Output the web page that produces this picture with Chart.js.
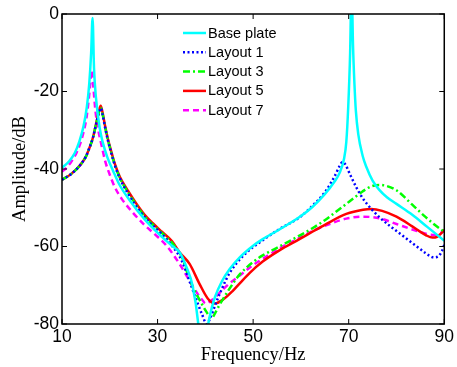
<!DOCTYPE html>
<html>
<head>
<meta charset="utf-8">
<script src="https://cdn.jsdelivr.net/npm/chart.js@4.4.1/dist/chart.umd.min.js"></script>
<style>
  html, body { margin: 0; padding: 0; background: #fff; }
  #wrap { width: 457px; height: 367px; }
</style>
</head>
<body>
<div id="wrap"><canvas id="myChart" width="457" height="367"></canvas></div>
<script>
// frequency response data (Hz / dB)
const baseFreq = [10, 11.5, 12.7, 13.6, 14.5, 15.2, 15.7, 16.1, 16.4, 16.7, 17.1, 17.9, 18.5, 19.5, 20.7, 22, 24, 27.3, 30.3, 33, 34.6, 36.1, 37.3, 38.5, 39.2, 40, 40.5, 41, 42, 43.5, 45.1, 47.2, 50, 52, 55.5, 59.7, 62.4, 65, 67, 68.1, 69.0, 69.5, 69.9, 70.3, 70.6, 70.9, 71.2, 71.5, 72, 72.9, 73.7, 75, 76.4, 78, 80, 83.3, 86.5, 90];
const baseDb = [-39.7, -38, -35.8, -33, -29, -24, -18, -10, -1, -14, -21.5, -29.5, -33, -37, -40.5, -44, -47.8, -53, -56.8, -59.8, -61.5, -65.5, -70, -79.8, -92, -92, -81.2, -77.6, -73.1, -68.9, -65.8, -62.8, -59.8, -58.1, -55.6, -52.4, -49.8, -46.5, -43.3, -41, -37.5, -33, -24, -10, 8, -8, -18, -25, -31, -36.5, -39.5, -43, -45.4, -47.3, -49, -51.8, -55, -58.5];

const lay1Freq = [10, 12, 13.8, 15, 15.6, 16.5, 17.2, 17.7, 18.1, 18.5, 19, 19.6, 20.2, 21.1, 22.1, 23.9, 25.5, 27.3, 30.9, 33, 35, 36.7, 38.2, 39.3, 40.3, 41, 42.4, 43.5, 45, 48, 52, 55.5, 59.7, 62.4, 65, 67, 68.2, 68.7, 69.3, 70.2, 71.5, 72.9, 76.4, 80, 83.3, 86, 87.8, 88.8, 89.5, 90];
const lay1Db = [-42.8, -41.2, -39, -36.8, -35, -31.8, -28, -25.5, -24.3, -26, -29.2, -32.6, -35.4, -39.2, -42.4, -46.5, -49.5, -52.5, -56.8, -59.8, -63.5, -69, -74, -77.5, -80, -78.5, -74, -70.8, -67, -62.3, -58.4, -55.5, -52.5, -49.5, -46, -42, -39, -38.2, -38.8, -41.2, -44.5, -47.5, -52.4, -56, -59.1, -61.6, -62.8, -62.5, -61.2, -59.6];

const lay3Freq = [10, 12, 13.8, 15, 15.6, 16.5, 17.2, 17.7, 18.1, 18.5, 19, 19.6, 20.2, 21.1, 22.1, 23.9, 25.5, 27.3, 30.9, 33, 35.3, 36, 37.4, 38.8, 40.3, 41.3, 42, 43, 45.1, 47.2, 50, 52, 55.5, 59.7, 62.4, 65, 69.5, 72.9, 74.5, 76.4, 78, 80, 83.3, 86, 88, 90];
const lay3Db = [-42.8, -41.2, -39, -36.8, -35, -31.8, -28, -25.4, -24.2, -25.9, -29.1, -32.5, -35.3, -39.1, -42.3, -46.2, -49.2, -52.2, -56.5, -59, -63.3, -66, -70.5, -73.8, -77, -78.5, -77.3, -75, -70.8, -67.2, -64, -62.3, -60, -57.2, -55.3, -53.2, -49, -45.8, -44.6, -44.1, -44.4, -45.5, -49.2, -52.3, -54.4, -56.2];

const lay5Freq = [10, 12, 13.8, 15, 15.6, 16.5, 17.2, 17.7, 18.1, 18.5, 19, 19.6, 20.2, 21.1, 22.1, 23.9, 25.5, 27.3, 29, 30.9, 33, 34.6, 36.7, 38.8, 40.5, 42, 43.6, 45.7, 47.2, 49.3, 52, 55.5, 59.7, 62.4, 65, 69.5, 73, 74.7, 77, 80, 83.3, 86.2, 87.5, 88.5, 89.3, 90];
const lay5Db = [-42.8, -41.2, -39, -36.8, -35, -31.8, -28, -25.2, -23.7, -25.5, -28.8, -32.2, -35, -38.8, -42, -45.8, -48.8, -51.8, -54, -56.2, -58.6, -61.5, -64.5, -69.7, -73.4, -74.7, -73.8, -71.5, -69.5, -66.8, -63.9, -61, -58.1, -56.2, -54.4, -51.6, -50.5, -50.3, -50.8, -52.3, -54.8, -57.1, -57.7, -57.5, -56.7, -55.7];

const lay7Freq = [10, 11, 12, 13, 13.8, 14.5, 15.1, 15.6, 15.95, 16.2, 16.5, 17, 17.6, 18.3, 19, 20, 21.1, 22.5, 25, 27.3, 29.4, 32, 34.6, 37.4, 38.7, 39.5, 40, 41.6, 43.6, 45, 47.2, 50, 52, 55.5, 59.7, 62.4, 66, 69.5, 72.9, 76.4, 80, 83.3, 86.9, 88.2, 90];
const lay7Db = [-40.7, -39.6, -38, -35.9, -33.5, -30.5, -27, -22, -17.5, -14.5, -18, -25, -30, -34, -37.8, -41.5, -44.8, -47.7, -51.5, -54.5, -56.8, -60, -64.5, -70.3, -72.8, -74, -74.7, -73.6, -71.2, -69.6, -67.5, -64.8, -63.2, -60.5, -57.8, -56, -54.2, -52.8, -52.3, -52.7, -54.2, -55.6, -56.9, -57, -56];

const seriesNames = ['Base plate', 'Layout 1', 'Layout 3', 'Layout 5', 'Layout 7'];
const xTicks = [10, 30, 50, 70, 90];
const yTicks = [-80, -60, -40, -20, 0];

const toPoints = (fs, ds) => fs.map((f, i) => ({ x: f, y: ds[i] }));

const lineSet = (label, pts, color, dash) => ({
    label: label,
    data: pts,
    borderColor: color,
    backgroundColor: color,
    borderWidth: 2.5,
    borderDash: dash,
    pointRadius: 0,
    fill: false,
    cubicInterpolationMode: 'monotone'
});

// box around the plot with inward tick marks on all four sides
const frameTicks = {
    id: 'frameTicks',
    afterDatasetsDraw(chart) {
        const { ctx, chartArea: a, scales: { x, y } } = chart;
        ctx.save();
        ctx.strokeStyle = '#000';
        ctx.lineWidth = 1.5;
        ctx.setLineDash([]);
        ctx.strokeRect(a.left, a.top, a.right - a.left, a.bottom - a.top);
        ctx.beginPath();
        x.ticks.forEach(t => {
            const px = x.getPixelForValue(t.value);
            ctx.moveTo(px, a.bottom); ctx.lineTo(px, a.bottom - 5);
            ctx.moveTo(px, a.top); ctx.lineTo(px, a.top + 5);
        });
        y.ticks.forEach(t => {
            const py = y.getPixelForValue(t.value);
            ctx.moveTo(a.left, py); ctx.lineTo(a.left + 5, py);
            ctx.moveTo(a.right, py); ctx.lineTo(a.right - 5, py);
        });
        ctx.lineWidth = 1;
        ctx.stroke();
        ctx.restore();
    }
};

// legend drawn inside the plot, one line sample per dataset
const innerLegend = {
    id: 'innerLegend',
    afterDatasetsDraw(chart) {
        const { ctx, chartArea: a } = chart;
        const x0 = a.left + 121;
        const y0 = a.top + 19;
        const row = 19.3;
        ctx.save();
        ctx.font = '14.5px "Liberation Sans", Arial, sans-serif';
        ctx.textBaseline = 'middle';
        ctx.fillStyle = '#000';
        chart.data.datasets.forEach((ds, i) => {
            const yy = y0 + i * row;
            ctx.strokeStyle = ds.borderColor;
            ctx.lineWidth = 2.5;
            ctx.setLineDash(ds.borderDash || []);
            ctx.beginPath();
            ctx.moveTo(x0, yy);
            ctx.lineTo(x0 + 23, yy);
            ctx.stroke();
            ctx.fillText(ds.label, x0 + 25, yy + 0.5);
        });
        ctx.restore();
    }
};

const ctx = document.getElementById('myChart').getContext('2d');

const myChart = new Chart(ctx, {
    type: 'line',
    data: {
        datasets: [
            lineSet(seriesNames[0], toPoints(baseFreq, baseDb), '#00ffff', []),
            lineSet(seriesNames[1], toPoints(lay1Freq, lay1Db), '#0000ff', [2, 2.5]),
            lineSet(seriesNames[2], toPoints(lay3Freq, lay3Db), '#00ff00', [7, 3, 2, 3]),
            lineSet(seriesNames[3], toPoints(lay5Freq, lay5Db), '#ff0000', []),
            lineSet(seriesNames[4], toPoints(lay7Freq, lay7Db), '#ff00ff', [6, 4])
        ]
    },
    options: {
        responsive: false,
        animation: false,
        events: [],
        layout: { padding: { top: 14, right: 12, left: 0, bottom: 0 } },
        plugins: {
            legend: { display: false },
            tooltip: { enabled: false }
        },
        scales: {
            x: {
                type: 'linear',
                min: 10,
                max: 90,
                afterBuildTicks: scale => { scale.ticks = xTicks.map(v => ({ value: v })); },
                afterFit: scale => { scale.height = 43; },
                grid: { display: false, drawTicks: false },
                border: { display: false },
                ticks: {
                    padding: 3,
                    color: '#000',
                    maxRotation: 0,
                    font: { family: '"Liberation Sans", Arial, sans-serif', size: 17.5 }
                },
                title: {
                    display: true,
                    text: 'Frequency/Hz',
                    color: '#000',
                    padding: { top: 0, bottom: 1 },
                    font: { family: '"Liberation Serif", "Times New Roman", serif', size: 18.5 }
                }
            },
            y: {
                min: -80,
                max: 0,
                afterBuildTicks: scale => { scale.ticks = yTicks.map(v => ({ value: v })); },
                afterFit: scale => { scale.width = 62; },
                grid: { display: false, drawTicks: false },
                border: { display: false },
                ticks: {
                    padding: 3,
                    color: '#000',
                    font: { family: '"Liberation Sans", Arial, sans-serif', size: 17.5 }
                },
                title: {
                    display: true,
                    text: 'Amplitude/dB',
                    color: '#000',
                    padding: { top: 9, bottom: 0 },
                    font: { family: '"Liberation Serif", "Times New Roman", serif', size: 18.5 }
                }
            }
        }
    },
    plugins: [frameTicks, innerLegend]
});
</script>
</body>
</html>
